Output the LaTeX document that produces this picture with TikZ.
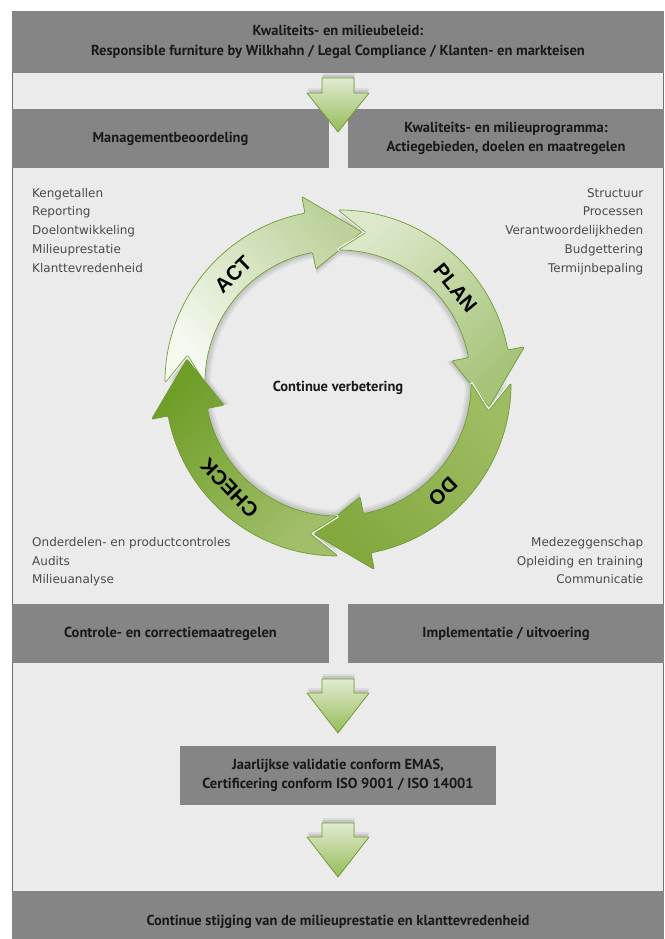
\documentclass[tikz,border=0pt]{standalone}
\usepackage{fontspec}
\setmainfont{PT Sans}
\newfontfamily\lblfont{DejaVu Sans}
\newfontfamily\ringfont{Liberation Sans}
\definecolor{boxgrey}{HTML}{858585}
\definecolor{panelgrey}{HTML}{EBEBEB}
\definecolor{panelline}{HTML}{707070}
\definecolor{edgegreen}{HTML}{6F9C33}
\definecolor{labelgrey}{HTML}{4A4A4A}
\definecolor{actA}{HTML}{F5F9F0}
\definecolor{actB}{HTML}{BCD29A}
\definecolor{planA}{HTML}{DCE8CA}
\definecolor{planB}{HTML}{A6C378}
\definecolor{doA}{HTML}{9EBC62}
\definecolor{doB}{HTML}{82A83E}
\definecolor{chkA}{HTML}{A2BE6A}
\definecolor{chkB}{HTML}{6E9E28}
\definecolor{arrA}{HTML}{E0EBD0}
\definecolor{arrB}{HTML}{96BC58}
\newcommand\ringpath[1]{%
 ({#1+99}:173) arc[start angle={#1+99}, end angle={#1+20}, radius=173]
 -- ({#1+20}:190) -- (#1:153) -- ({#1+20}:116) -- ({#1+20}:133)
 arc[start angle={#1+20}, end angle={#1+99}, radius=133]
 -- ({#1+88.5}:153) -- cycle}
\newcommand\notchpath[1]{({#1+99}:173) -- ({#1+88.5}:153) -- ({#1+99}:133)}
\newcommand\downarr[3]{(322,-#1) -- (354,-#1) -- (354,-#2) -- (369,-#2) -- (338,-#3) -- (307,-#2) -- (322,-#2) -- cycle}
\tikzset{
  box/.style={fill=boxgrey, inner sep=0pt, align=center, text=black!90,
    font=\bfseries\fontsize{14.5}{19.5}\selectfont},
  lbl/.style={font=\lblfont\fontsize{12}{14}\selectfont, text=labelgrey, inner sep=0pt},
  ringlbl/.style={font=\ringfont\bfseries\fontsize{20.5}{22}\selectfont, text=black, inner sep=0pt},
  blockarrow/.style={top color=arrA, bottom color=arrB, draw=edgegreen, line width=0.8pt, line join=round},
}
\begin{document}
\begin{tikzpicture}[x=1pt,y=1pt]
\useasboundingbox (0,0) rectangle (664,-939);
\fill[white] (0,0) rectangle (664,-939);
% panel
\draw[fill=panelgrey, draw=panelline, line width=0.8pt] (12.4,-11) rectangle (663,-918);
% boxes
\node[box, minimum width=652pt, minimum height=62pt] (policy) at (338,-42) {Kwaliteits- en milieubeleid:\\Responsible furniture by Wilkhahn / Legal Compliance / Klanten- en markteisen};
\node[box, minimum width=317pt, minimum height=59pt] (mgmt) at (170.5,-138.5) {Managementbeoordeling};
\node[box, minimum width=316pt, minimum height=59pt] (prog) at (506,-138.5) {Kwaliteits- en milieuprogramma:\\Actiegebieden, doelen en maatregelen};
\node[box, minimum width=317pt, minimum height=59pt] (ctrl) at (170.5,-633.5) {Controle- en correctiemaatregelen};
\node[box, minimum width=316pt, minimum height=59pt] (impl) at (506,-633.5) {Implementatie / uitvoering};
\node[box, minimum width=316pt, minimum height=59pt] (valid) at (338,-775.5) {Jaarlijkse validatie conform EMAS,\\Certificering conform ISO 9001 / ISO 14001};
\node[box, minimum width=652pt, minimum height=62pt] (result) at (338,-922) {Continue stijging van de milieuprestatie en klanttevredenheid};
% block arrows
\foreach \a/\b/\c in {78/93/132, 679/693/733, 823/837/877}{
  \fill[black, opacity=0.10, yshift=3pt] \downarr{\a}{\b}{\c};
  \fill[black, opacity=0.06, yshift=5pt, xshift=1pt] \downarr{\a}{\b}{\c};
  \shade[blockarrow] \downarr{\a}{\b}{\c};
}
% ring
\begin{scope}[shift={(338,-383)}]
  \foreach \t in {81,-9,-99,171}{
    \fill[black, opacity=0.06] [scale=0.985] \ringpath{\t};
    \fill[black, opacity=0.06] [scale=0.97] \ringpath{\t};
    \fill[black, opacity=0.05] [scale=0.955] \ringpath{\t};
  }
  \foreach \t/\ca/\cb in {81/actA/actB, -9/planA/planB, -99/doA/doB, 171/chkA/chkB}{
    \pgfmathsetmacro\sa{\t-128}
    \draw[white, line width=3pt, line join=round] \notchpath{\t};
    \shade[bottom color=\ca, top color=\cb, shading angle=\sa, draw=edgegreen, line width=0.7pt, line join=round, rounded corners=1.2pt] \ringpath{\t};
  }
  \node[ringlbl, rotate=44] (act) at (134:151) {ACT};
  \node[ringlbl, rotate=-51] (plan) at (39:151) {PLAN};
  \node[ringlbl, rotate=-136] (do) at (-46:151) {DO};
  \node[ringlbl, rotate=134] (check) at (-136:151) {CHECK};
\end{scope}
\node[font=\bfseries\fontsize{14.5}{16}\selectfont, text=black!90] (cv) at (338,-388) {Continue verbetering};
% side lists
\foreach \txt [count=\i] in {Kengetallen, Reporting, Doelontwikkeling, Milieuprestatie, Klanttevredenheid}
  \node[lbl, anchor=base west] (tl\i) at (32,{-197-18.75*(\i-1)}) {\txt};
\foreach \txt [count=\i] in {Structuur, Processen, Verantwoordelijkheden, Budgettering, Termijnbepaling}
  \node[lbl, anchor=base east] (tr\i) at (643.5,{-197-18.75*(\i-1)}) {\txt};
\foreach \txt [count=\i] in {Onderdelen- en productcontroles, Audits, Milieuanalyse}
  \node[lbl, anchor=base west] (bl\i) at (32,{-546.7-18.3*(\i-1)}) {\txt};
\foreach \txt [count=\i] in {Medezeggenschap, Opleiding en training, Communicatie}
  \node[lbl, anchor=base east] (br\i) at (643.5,{-546.7-18.3*(\i-1)}) {\txt};
\end{tikzpicture}
\end{document}
